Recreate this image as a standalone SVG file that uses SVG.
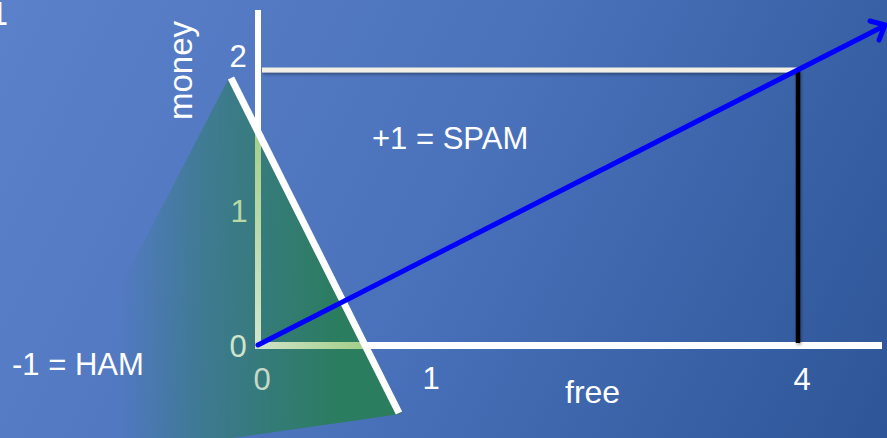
<svg xmlns="http://www.w3.org/2000/svg" width="887" height="438" viewBox="0 0 887 438">
<defs>
<linearGradient id="bg" x1="0" y1="0" x2="887" y2="438" gradientUnits="userSpaceOnUse">
<stop offset="0" stop-color="#5b81ca"/>
<stop offset="0.5" stop-color="#4a72bb"/>
<stop offset="1" stop-color="#2d5597"/>
</linearGradient>
<linearGradient id="tri" x1="120" y1="0" x2="340" y2="0" gradientUnits="userSpaceOnUse">
<stop offset="0" stop-color="#2b7d5f" stop-opacity="0"/>
<stop offset="0.4" stop-color="#2b7d5f" stop-opacity="0.5"/>
<stop offset="1" stop-color="#2b7d5f" stop-opacity="1"/>
</linearGradient>
<linearGradient id="gv" x1="0" y1="132" x2="0" y2="348" gradientUnits="userSpaceOnUse">
<stop offset="0" stop-color="#a5cf8c"/>
<stop offset="1" stop-color="#d4e6cc"/>
</linearGradient>
<linearGradient id="gh" x1="258" y1="0" x2="364" y2="0" gradientUnits="userSpaceOnUse">
<stop offset="0" stop-color="#cfe3c8"/>
<stop offset="1" stop-color="#a3cf88"/>
</linearGradient>
<filter id="sh" filterUnits="userSpaceOnUse" x="0" y="0" width="887" height="438">
<feDropShadow dx="1" dy="2" stdDeviation="1.5" flood-color="#000" flood-opacity="0.35"/>
</filter>
</defs>
<style>
.t{font-family:"Liberation Sans",Arial,sans-serif;font-size:31px;fill:#ffffff}
.n{text-anchor:middle}
.ax{stroke:#ffffff;stroke-width:6;fill:none}
</style>
<rect id="background" x="0" y="0" width="887" height="438" fill="url(#bg)"/>
<g id="region">
<polygon points="229,78 401,414 205,442 40,442" fill="url(#tri)"/>
</g>
<g id="axes">
<line class="ax" x1="258" y1="10" x2="258" y2="348"/>
<line class="ax" x1="255" y1="345.5" x2="882" y2="345.5" style="stroke-width:7"/>
<line x1="258" y1="132" x2="258" y2="348" stroke="url(#gv)" stroke-width="6"/>
<line x1="255" y1="345.5" x2="364" y2="345.5" stroke="url(#gh)" stroke-width="7"/>
</g>
<g id="guides">
<line x1="262" y1="70" x2="797" y2="70" stroke="#f2f0e4" stroke-width="5" filter="url(#sh)"/>
<line x1="798" y1="70" x2="798" y2="343" stroke="#000000" stroke-width="4.5" filter="url(#sh)"/>
</g>
<g id="boundary">
<line x1="231" y1="78" x2="399" y2="413" stroke="#ffffff" stroke-width="7"/>
</g>
<g id="connectors">
<line x1="258" y1="345" x2="884" y2="26" stroke="#0000ff" stroke-width="5" stroke-linecap="round"/>
<path d="M870,21 L885,25 L879,40" fill="none" stroke="#0000ff" stroke-width="5" stroke-linecap="round" stroke-linejoin="round"/>
</g>
<g id="labels">
<text class="t" x="-11" y="25" style="font-family:'DejaVu Sans',sans-serif;font-size:32px">1</text>
<text class="t" transform="translate(192,120) rotate(-90)" style="font-size:33px">money</text>
<text class="t n" x="238" y="67">2</text>
<text class="t n" x="239" y="222" style="fill:#b8d8a6">1</text>
<text class="t n" x="238" y="357" style="fill:#d0e4cc">0</text>
<text class="t n" x="262" y="390" style="fill:#c6d9c8">0</text>
<text class="t n" x="431" y="389">1</text>
<text class="t n" x="802" y="390">4</text>
<text class="t" x="565" y="403" style="font-size:32px">free</text>
<text class="t" x="372" y="149">+1 = SPAM</text>
<text class="t" x="12" y="375">-1 = HAM</text>
</g>
</svg>
